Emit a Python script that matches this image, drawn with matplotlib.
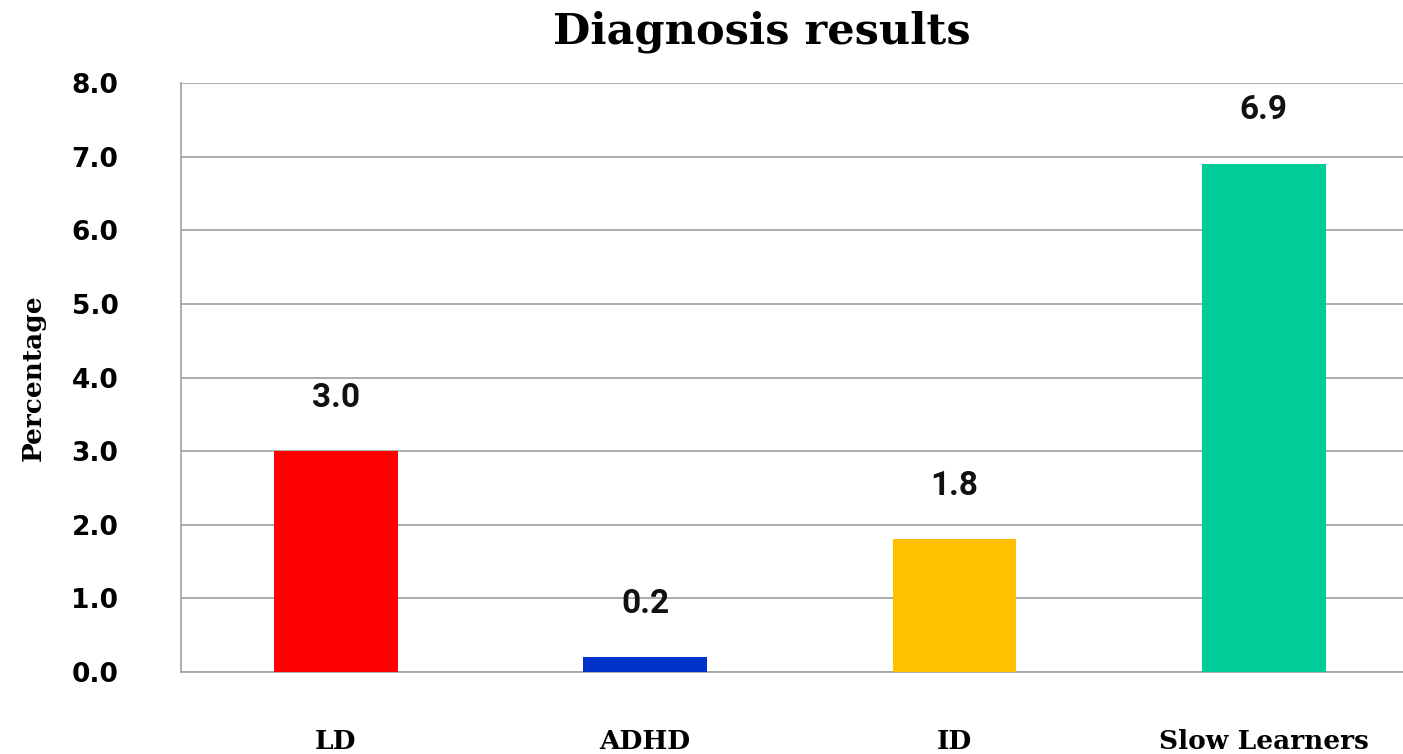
import matplotlib
matplotlib.use('Agg')
import matplotlib.pyplot as plt

categories = ['LD', 'ADHD', 'ID', 'Slow Learners']
values = [3.0, 0.2, 1.8, 6.9]
colors = ['#FF0000', '#0033CC', '#FFC000', '#00CC99']
yticks = [0, 1, 2, 3, 4, 5, 6, 7, 8]

fig = plt.figure(figsize=(14.03, 7.54), dpi=100)
ax = fig.add_axes([181/1403, 82/754, 1 - 181/1403, (672-83)/754])

x = range(len(categories))
ax.bar(x, values, width=0.40, color=colors, zorder=3)

# value labels above bars
for xi, v in zip(x, values):
    ax.annotate('%.1f' % v, (xi, v), xytext=(0, 27), textcoords='offset points',
                ha='center', va='bottom', fontsize=24, fontweight='bold',
                family='Roboto', color='#111111', zorder=4)

ax.set_xlim(-0.5, 3.45)
ax.set_ylim(0, 8)
ax.set_yticks(yticks)
ax.set_yticklabels(['%.1f' % t for t in yticks], fontsize=19, fontweight='bold',
                   family='DejaVu Sans')
ax.set_xticks(list(x))
ax.set_xticklabels(categories, fontsize=19, fontweight='bold', family='DejaVu Serif')
ax.tick_params(axis='x', length=0, pad=41)
ax.tick_params(axis='y', length=0, pad=45)

ax.yaxis.grid(True, color='#A6A6A6', linewidth=1.3, zorder=0)
for s in ['top', 'right']:
    ax.spines[s].set_visible(False)
ax.spines['left'].set_color('#A6A6A6')
ax.spines['left'].set_linewidth(1.3)
ax.spines['bottom'].set_color('#A6A6A6')
ax.spines['bottom'].set_linewidth(1.3)

ax.set_ylabel('Percentage', fontsize=19, family='DejaVu Serif', fontweight='bold')
ax.yaxis.set_label_coords(-0.111, 0.5)

fig.text(762/1403, 1 - 32/754, 'Diagnosis results', ha='center', va='center',
         fontsize=31, fontweight='bold', family='DejaVu Serif')

fig.savefig('out.png', dpi=100)
